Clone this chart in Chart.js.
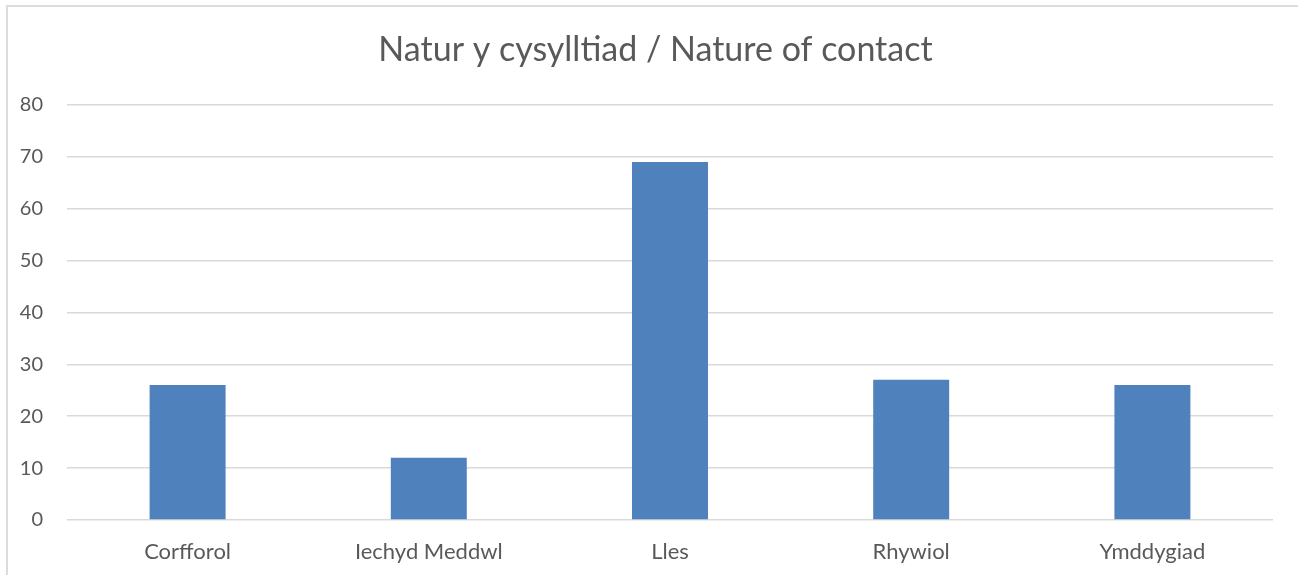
<!DOCTYPE html>
<html>
<head>
<meta charset="utf-8">
<script src="https://cdn.jsdelivr.net/npm/chart.js@4"></script>
<style>
  body { margin: 0; background: #fff; overflow: hidden; }
  #frame { position: absolute; left: 6px; top: 5px; width: 1400px; height: 700px; border: 2px solid #dcdcdc; pointer-events: none; }
  canvas { position: absolute; left: 0; top: 0; }
</style>
</head>
<body>
<canvas id="chart" width="1298" height="575"></canvas>
<div id="frame"></div>
<script>
// chart data
const categories = ['Corfforol', 'Iechyd Meddwl', 'Lles', 'Rhywiol', 'Ymddygiad'];
const counts = [26, 12, 69, 27, 26];
const yMin = 0;
const yMax = 80;
const yStep = 10;

const textColor = '#595959';
const fontFamily = 'Lato, "Noto Sans", sans-serif';

// nudge the title box so it is centred a little right, like the original
const titleShift = {
  id: 'titleShift',
  afterLayout(chart) {
    if (chart.titleBlock) {
      chart.titleBlock.left = 38;
    }
  }
};

const ctx = document.getElementById('chart').getContext('2d');
const chart = new Chart(ctx, {
  type: 'bar',
  data: {
    labels: categories,
    datasets: [{
      data: counts,
      backgroundColor: '#4f81bd',
      barPercentage: 0.315,
      categoryPercentage: 1
    }]
  },
  options: {
    responsive: false,
    animation: false,
    layout: { padding: { left: 0, right: 25, top: 0, bottom: 0 } },
    plugins: {
      legend: { display: false },
      tooltip: { enabled: false },
      title: {
        display: true,
        text: 'Natur y cysylltiad / Nature of contact',
        color: textColor,
        font: { family: fontFamily, size: 34, weight: 'normal' },
        padding: { top: 30, bottom: 34 }
      }
    },
    scales: {
      x: {
        grid: { display: false },
        border: { display: false },
        ticks: {
          color: textColor,
          font: { family: fontFamily, size: 22 },
          padding: 11
        },
        afterFit: (scale) => { scale.height = 55; }
      },
      y: {
        min: yMin,
        max: yMax,
        border: { display: false },
        grid: { color: '#d9d9d9', lineWidth: 1.5, drawTicks: false },
        ticks: {
          stepSize: yStep,
          color: textColor,
          font: { family: fontFamily, size: 20 },
          padding: 24
        },
        afterFit: (scale) => { scale.width = 67; }
      }
    }
  },
  plugins: [titleShift]
});
</script>
</body>
</html>
